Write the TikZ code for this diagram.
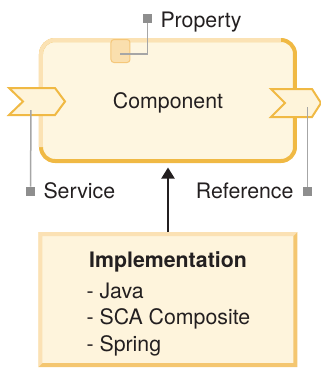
\documentclass[tikz,border=0pt]{standalone}
\usepackage{fontspec}
\setmainfont{TeX Gyre Heros}
\usetikzlibrary{arrows.meta, calc, positioning}
\definecolor{compfill}{HTML}{FEF6E0}
\definecolor{edgelight}{HTML}{FBE2B4}
\definecolor{edgedark}{HTML}{F0B944}
\definecolor{portfill}{HTML}{FEF4DA}
\definecolor{propfill}{HTML}{FADFAE}
\definecolor{propedge}{HTML}{F5C77A}
\definecolor{tagline}{HTML}{A6A6A6}
\definecolor{tagmark}{HTML}{8E8E8E}
\definecolor{implfill}{HTML}{FEF4DC}
\definecolor{impllight}{HTML}{FBE1B4}
\definecolor{impldark}{HTML}{F4C670}
\definecolor{txt}{HTML}{231F20}
\tikzset{
  >={Triangle[length=11pt,width=13pt]},
  % boxes
  comp box/.style={draw=edgedark,fill=compfill,line width=4pt,rounded corners=14pt,
                   minimum width=254,minimum height=121,inner sep=0,outer sep=0,text depth=0pt},
  edge light/.style={draw=edgelight,line width=4pt,rounded corners=14pt},
  impl box/.style={fill=implfill,minimum width=259,minimum height=135,inner sep=0,outer sep=0},
  prop box/.style={draw=propedge,fill=propfill,line width=1pt,rounded corners=3pt,
                   minimum width=19,minimum height=23,inner sep=0},
  port/.style={draw=edgedark,fill=portfill,line width=2pt,line join=miter},
  % tags
  tag line/.style={tagline,line width=1.5pt},
  tag mark/.style={fill=tagmark,minimum size=9,inner sep=0,outer sep=0},
  uses/.style={->,line width=2pt,txt,shorten >=6.5pt}
}
\begin{document}
\begin{tikzpicture}[x=1pt,y=-1pt,font=\fontsize{21.3}{25}\selectfont,text=txt]
  \useasboundingbox (0,0) rectangle (321,368);
  % component
  \node[comp box] (comp) at (168,100.5) {Component};
  \draw[edge light] ([yshift=14pt]comp.south west) -- (comp.north west) -- ([xshift=-14pt]comp.north east);
  % property
  \node[prop box] (prop) at (120.5,51) {};
  \node[tag mark] (propmark) at (147.5,18.5) {};
  \draw[tag line] ([yshift=-3pt]prop.center) -| (propmark);
  \node[anchor=base west] (proplbl) at (157,27) {Property};
  % service and reference
  \draw[port] (9,88) -- (55,88) -- (65,101.5) -- (55,115) -- (9,115) -- (23,101.5) -- cycle;
  \draw[port] (271,89) -- (312,89) -- (321,103) -- (312,117) -- (271,117) -- (285,103) -- cycle;
  \coordinate (svc) at (31,110);
  \coordinate (ref) at (307.5,107);
  \node[tag mark] (svcmark) at (30.5,191) {};
  \node[tag mark] (refmark) at (307.5,191) {};
  \draw[tag line] (svc) -- (svcmark);
  \draw[tag line] (ref) -- (refmark);
  \node[anchor=base west] (svclbl) at (40,198) {Service};
  \node[anchor=base east] (reflbl) at (297,198) {Reference};
  % implementation
  \node[impl box] (impl) at (168,299.5) {};
  \fill[impllight] (impl.south west) -- (impl.north west) -- (impl.north east)
    -- ($(impl.north east)+(-4,4)$) -- ($(impl.north west)+(4,4)$) -- ($(impl.south west)+(4,-4)$) -- cycle;
  \fill[impldark] (impl.north east) -- (impl.south east) -- (impl.south west)
    -- ($(impl.south west)+(4,-4)$) -- ($(impl.south east)+(-4,-4)$) -- ($(impl.north east)+(-4,4)$) -- cycle;
  \node[anchor=base,font=\fontsize{21.3}{25}\selectfont\bfseries] (impltitle) at (168,267) {Implementation};
  \foreach \i/\txt in {1/Java, 2/SCA Composite, 3/Spring}{
    \node[anchor=base west] (item\i) at (83,271.5+26.5*\i) {- \txt};
  }
  \draw[uses] (impl.north) -- (comp.south);
\end{tikzpicture}
\end{document}
